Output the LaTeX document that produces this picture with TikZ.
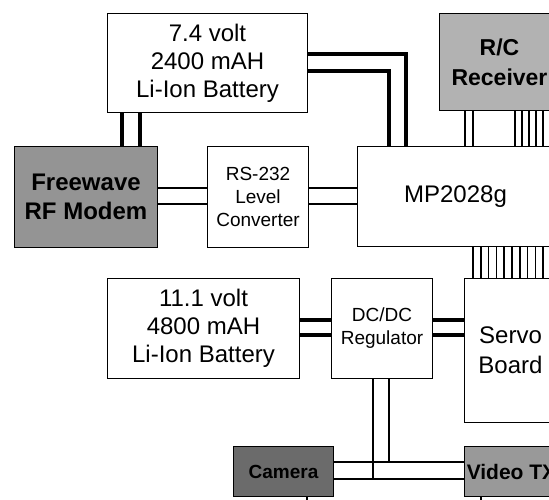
\documentclass[tikz,border=0pt]{standalone}
\usepackage{fontspec}
\setmainfont{Liberation Sans}
\begin{document}
\begin{tikzpicture}[x=1pt,y=-1pt,
  box/.style={draw=black, line width=1pt, inner sep=0pt, align=center, anchor=north west, fill=white},
  big/.style={font=\fontsize{24}{28}\selectfont},
  small/.style={font=\fontsize{19}{23}\selectfont},
  tex/.style={font=\fontsize{24}{29}\selectfont\bfseries},
  pwr/.style={line width=3.4pt},
  sig/.style={line width=2.2pt},
  bus/.style={line width=1.5pt},
  vid/.style={line width=2pt}]
\clip (0,0) rectangle (549,500);
\fill[white] (0,0) rectangle (549,500);
% boxes
\node[box, big, minimum width=200pt, minimum height=99pt] (bat1) at (107,13) {7.4 volt\\2400 mAH\\Li-Ion Battery};
\node[box, tex, fill=black!30, minimum width=120pt, minimum height=97pt, font=\fontsize{23}{30}\selectfont\bfseries] (rc) at (439,13) {R/C\\Receiver};
\node[box, tex, fill=black!42, minimum width=143pt, minimum height=101pt] (modem) at (14,146) {Freewave\\RF Modem};
\node[box, small, minimum width=101pt, minimum height=101pt] (rs) at (207,146) {RS-232\\Level\\Converter};
\node[box, big, minimum width=196pt, minimum height=100pt] (mp) at (357,146) {MP2028g};
\node[box, big, minimum width=192pt, minimum height=100pt] (bat2) at (107,278) {11.1 volt\\4800 mAH\\Li-Ion Battery};
\node[box, small, minimum width=101pt, minimum height=100pt] (dcdc) at (331,278) {DC/DC\\Regulator};
\node[box, minimum width=92pt, minimum height=144pt, font=\fontsize{24}{30}\selectfont] (servo) at (464,278) {Servo\\Board};
\node[box, fill=black!58, minimum width=100pt, minimum height=50pt, font=\fontsize{19}{23}\selectfont\bfseries] (cam) at (233,446) {Camera};
\node[box, fill=black!40, minimum width=94pt, minimum height=50pt, font=\fontsize{21}{25}\selectfont\bfseries] (vtx) at (464,446) {Video TX};
% helper coordinates
\coordinate (ya) at (0,54);
\coordinate (yb) at (0,71);
\coordinate (xa) at (406,0);
\coordinate (xb) at (389,0);
\coordinate (xc) at (122,0);
\coordinate (xd) at (140,0);
\coordinate (yc) at (0,188);
\coordinate (yd) at (0,204);
\coordinate (ye) at (0,320);
\coordinate (yf) at (0,335);
\coordinate (xe) at (373,0);
\coordinate (xf) at (389,0);
\coordinate (yg) at (0,462);
\coordinate (yh) at (0,479);
\coordinate (camtail) at (307,500);
\coordinate (vtxtail) at (481,500);
% battery 1 to MP2028g
\draw[pwr] (bat1.east |- ya) -| (xa |- mp.north);
\draw[pwr] (bat1.east |- yb) -| (xb |- mp.north);
% battery 1 to modem
\draw[pwr] (xc |- bat1.south) -- (xc |- modem.north);
\draw[pwr] (xd |- bat1.south) -- (xd |- modem.north);
% modem - RS232 - MP
\draw[sig] (modem.east |- yc) -- (rs.west |- yc);
\draw[sig] (modem.east |- yd) -- (rs.west |- yd);
\draw[sig] (rs.east |- yc) -- (mp.west |- yc);
\draw[sig] (rs.east |- yd) -- (mp.west |- yd);
% receiver to MP
\foreach \x in {465,473,515,522,529,536,543}
  \draw[bus] (\x,0 |- rc.south) -- (\x,0 |- mp.north);
% MP to servo board
\foreach \x in {473,480.8,488.6,496.4,504.2,512,519.8,527.6,535.4,543.2}
  \draw[bus] (\x,0 |- mp.south) -- (\x,0 |- servo.north);
% battery 2 - DC/DC - servo
\draw[pwr] (bat2.east |- ye) -- (dcdc.west |- ye);
\draw[pwr] (bat2.east |- yf) -- (dcdc.west |- yf);
\draw[pwr] (dcdc.east |- ye) -- (servo.west |- ye);
\draw[pwr] (dcdc.east |- yf) -- (servo.west |- yf);
% DC/DC to camera and video TX
\draw[vid] (cam.east |- yg) -- (vtx.west |- yg);
\draw[vid] (cam.east |- yh) -- (vtx.west |- yh);
\draw[vid] (xe |- dcdc.south) -- (xe |- yh);
\draw[vid] (xf |- dcdc.south) -- (xf |- yg);
% tails
\draw[vid] (camtail |- cam.south) -- (camtail);
\draw[vid] (vtxtail |- vtx.south) -- (vtxtail);
\end{tikzpicture}
\end{document}
